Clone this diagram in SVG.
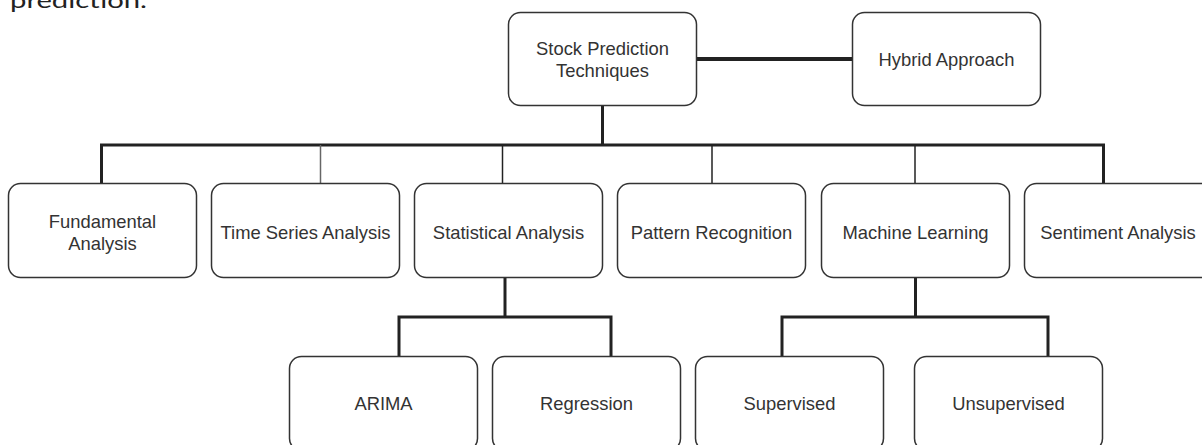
<svg xmlns="http://www.w3.org/2000/svg" width="1202" height="445" viewBox="0 0 1202 445">
<style>
.node rect{fill:#fff;stroke:#333;stroke-width:1.5}
.node text{font-family:"Liberation Sans",Arial,sans-serif;font-size:18.4px;fill:#333;text-anchor:middle}
#connectors path{fill:none;stroke:#222;stroke-linecap:butt;stroke-linejoin:miter}
.thick{stroke-width:3}
.thin{stroke-width:1.5}
.caption{font-family:"Lato","Noto Sans",sans-serif;font-size:21px;fill:#222}
</style>
<rect x="0" y="0" width="1202" height="445" fill="#fff"/>
<text class="caption" x="10" y="7.5" textLength="137" lengthAdjust="spacingAndGlyphs">prediction.</text>
<g id="connectors">
<path class="thick" d="M697 59H852" style="stroke-width:4"/>
<path class="thick" d="M602.5 106V145"/>
<path class="thick" d="M101.5 183V145H1103.5V183"/>
<path class="thin" d="M320.5 145V183" style="stroke:#666"/>
<path class="thin" d="M502.5 145V183"/>
<path class="thin" d="M712 145V183"/>
<path class="thin" d="M915 145V183"/>
<path class="thick" d="M505 277.5V317"/>
<path class="thick" d="M399 356V317H611V356"/>
<path class="thick" d="M915.5 277.5V317"/>
<path class="thick" d="M782 356V317H1048V356"/>
</g>
<g id="root" class="node"><rect x="508.5" y="12.5" width="188" height="93" rx="12"/><text x="602.5" y="55">Stock Prediction</text><text x="602.5" y="76.5">Techniques</text></g>
<g id="hybrid" class="node"><rect x="852.5" y="12.5" width="188" height="93" rx="12"/><text x="946.5" y="65.5">Hybrid Approach</text></g>
<g id="fundamental" class="node"><rect x="8.5" y="183.5" width="188" height="94" rx="12"/><text x="102.5" y="227.5">Fundamental</text><text x="102.5" y="249.5">Analysis</text></g>
<g id="timeseries" class="node"><rect x="211.5" y="183.5" width="188" height="94" rx="12"/><text x="305.5" y="239">Time Series Analysis</text></g>
<g id="statistical" class="node"><rect x="414.5" y="183.5" width="188" height="94" rx="12"/><text x="508.5" y="238.5">Statistical Analysis</text></g>
<g id="pattern" class="node"><rect x="617.5" y="183.5" width="188" height="94" rx="12"/><text x="711.5" y="238.5">Pattern Recognition</text></g>
<g id="ml" class="node"><rect x="821.5" y="183.5" width="188" height="94" rx="12"/><text x="915.5" y="238.5">Machine Learning</text></g>
<g id="sentiment" class="node"><rect x="1024.5" y="183.5" width="188" height="94" rx="12"/><text x="1118" y="238.5">Sentiment Analysis</text></g>
<g id="arima" class="node"><rect x="289.5" y="356.5" width="188" height="94" rx="12"/><text x="383.5" y="410">ARIMA</text></g>
<g id="regression" class="node"><rect x="492.5" y="356.5" width="188" height="94" rx="12"/><text x="586.5" y="410">Regression</text></g>
<g id="supervised" class="node"><rect x="695.5" y="356.5" width="188" height="94" rx="12"/><text x="789.5" y="410">Supervised</text></g>
<g id="unsupervised" class="node"><rect x="914.5" y="356.5" width="188" height="94" rx="12"/><text x="1008.5" y="410">Unsupervised</text></g>
</svg>
